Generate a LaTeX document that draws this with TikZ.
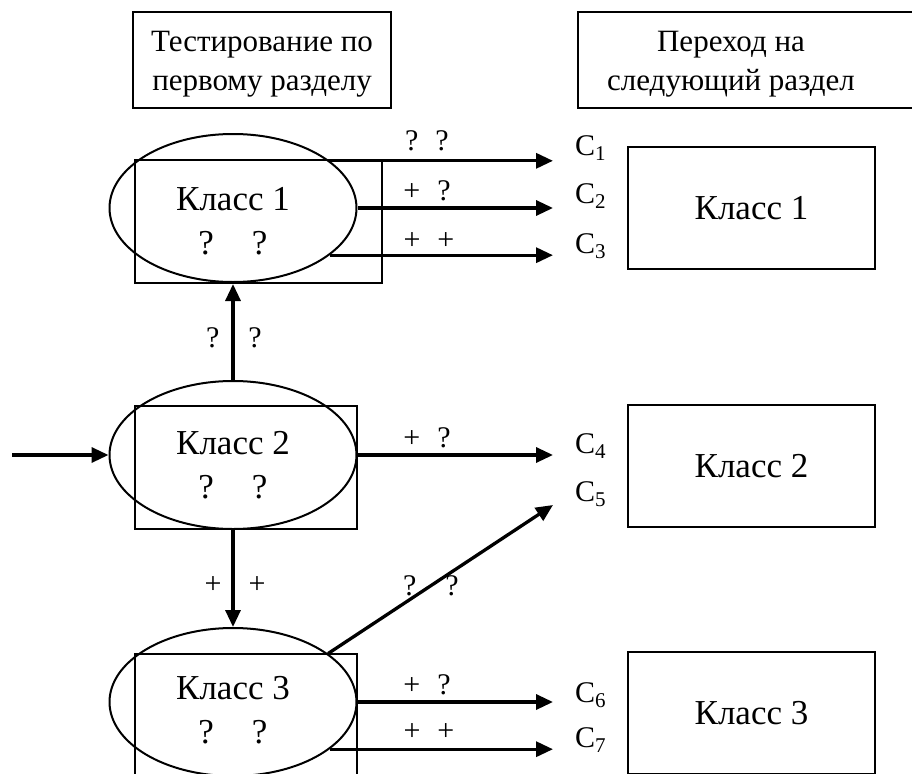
\documentclass[tikz,border=0pt]{standalone}
\usepackage{fontspec}
\setmainfont{Liberation Serif}
\usetikzlibrary{shapes.geometric,arrows.meta}
\tikzset{
  thin-line/.style={line width=2pt},
  box/.style={thin-line, draw=black, rectangle, inner sep=0pt},
  head-box/.style={box, minimum height=96pt},
  class-box/.style={box, minimum width=247pt, minimum height=123pt},
  class-oval/.style={thin-line, draw=black, ellipse, inner sep=0pt,
    minimum width=247pt, minimum height=148pt},
  class-text/.style={align=center, font=\fontsize{35}{44}\selectfont},
  head-text/.style={align=center, font=\fontsize{31}{39}\selectfont},
  c-label/.style={anchor=base west, inner sep=0pt, font=\fontsize{30}{30}\selectfont},
  arrow-label/.style={inner sep=0pt, font=\fontsize{30}{30}\selectfont},
  arrow-thick/.style={line width=3.3pt, -{Triangle[length=17pt,width=15pt]}}
}

\begin{document}
\begin{tikzpicture}[x=1pt, y=-1pt]
  \useasboundingbox (0,0) rectangle (912,773);
  \clip (0,0) rectangle (912,773);

  % Headings
  \node[head-box, minimum width=258pt] (head1) at (262,60) {};
  \node[head-text] (head1-text) at (262,64) {Тестирование по\\первому разделу};
  \node[head-box, minimum width=362pt] (head2) at (759,60) {};
  \node[head-text] (head2-text) at (731,64) {Переход на\\следующий раздел};

  % Class 1
  \node[class-box] (box1) at (258.5,221.5) {};
  \node[class-oval] (oval1) at (233,208) {};
  \node[class-text] (text1) at (233,221) {Класс 1\\?\hspace{38pt}?};

  % Class 2
  \node[class-box, minimum width=222pt] (box2) at (246,467) {};
  \node[class-oval] (oval2) at (233,455) {};
  \node[class-text] (text2) at (233,465) {Класс 2\\?\hspace{38pt}?};

  % Class 3
  \node[class-box, minimum width=222pt] (box3) at (246,715) {};
  \node[class-oval] (oval3) at (233,702) {};
  \node[class-text] (text3) at (233,710) {Класс 3\\?\hspace{38pt}?};

  % Next section
  \node[class-box, minimum height=122pt, class-text] (next1) at (751.5,208) {Класс 1};
  \node[class-box, minimum height=122pt, class-text] (next2) at (751.5,466) {Класс 2};
  \node[class-box, minimum height=122pt, class-text] (next3) at (751.5,713) {Класс 3};

  % Outcomes
  \node[c-label] (c1) at (575,155) {C\textsubscript{1}};
  \node[c-label] (c2) at (575,203) {C\textsubscript{2}};
  \node[c-label] (c3) at (575,253) {C\textsubscript{3}};
  \node[c-label] (c4) at (575,453) {C\textsubscript{4}};
  \node[c-label] (c5) at (575,501) {C\textsubscript{5}};
  \node[c-label] (c6) at (575,702) {C\textsubscript{6}};
  \node[c-label] (c7) at (575,747) {C\textsubscript{7}};

  % Connectors
  \coordinate (tip) at (553,0);
  \coordinate (tip5) at (553,505);
  \coordinate (start) at (12,455);
  \draw[arrow-thick] (oval1.26) -- (oval1.26 -| tip);
  \draw[arrow-thick] (oval1.east) -- (oval1.east -| tip);
  \draw[arrow-thick] (oval1.-26) -- (oval1.-26 -| tip);
  \draw[arrow-thick] (start) -- (oval2.west);
  \draw[arrow-thick] (oval2.north) -- (oval2.north |- box1.south);
  \draw[arrow-thick] (oval2.east) -- (oval2.east -| tip);
  \draw[arrow-thick] (oval2.south) -- (oval3.north);
  \draw[arrow-thick] (oval3.27) -- (tip5);
  \draw[arrow-thick] (oval3.east) -- (oval3.east -| tip);
  \draw[arrow-thick] (oval3.-26) -- (oval3.-26 -| tip);

  % Answer labels
  \node[arrow-label] (l1) at (427,141) {?\hspace{17pt}?};
  \node[arrow-label] (l2) at (427,191) {+\hspace{17pt}?};
  \node[arrow-label] (l3) at (429,241) {+\hspace{17pt}+};
  \node[arrow-label] (l4) at (427,438) {+\hspace{17pt}?};
  \node[arrow-label] (l5) at (427,685) {+\hspace{17pt}?};
  \node[arrow-label] (l6) at (429,732) {+\hspace{17pt}+};
  \node[arrow-label] (l-up) at (234,338) {?\hspace{29pt}?};
  \node[arrow-label] (l-down) at (235,585) {+\hspace{27pt}+};
  \node[arrow-label] (l-diag) at (431,586) {?\hspace{29pt}?};
\end{tikzpicture}
\end{document}
